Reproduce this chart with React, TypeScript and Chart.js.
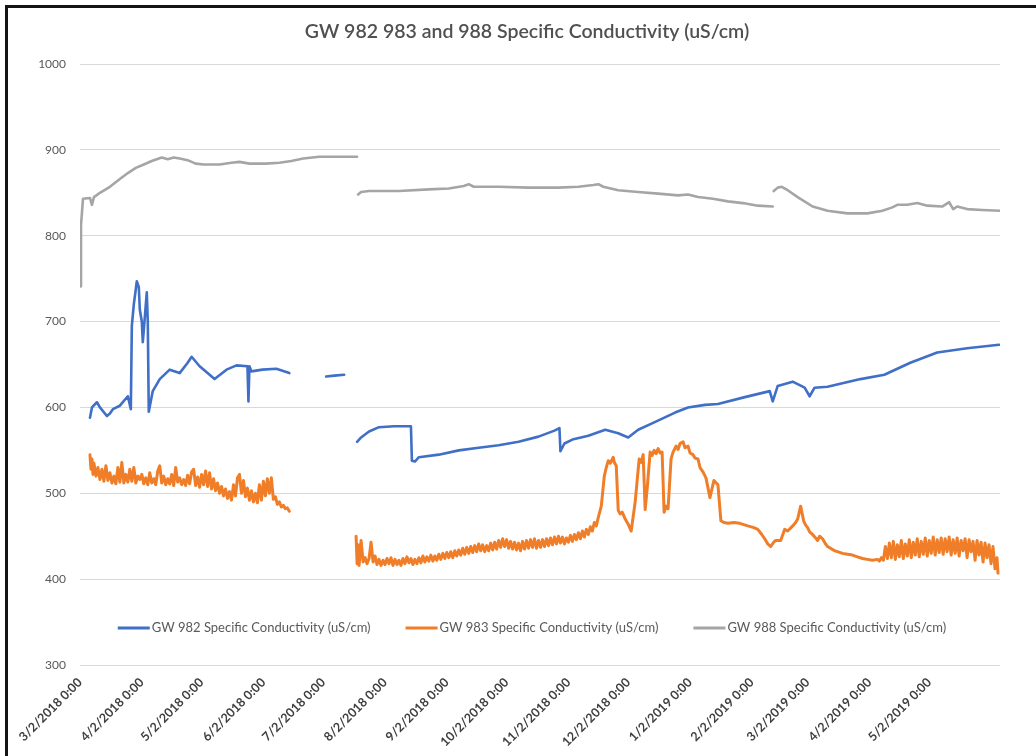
import React, { useEffect, useRef } from "react";
import { Chart, registerables } from "chart.js";

Chart.register(...registerables);

// x = days since 3/2/2018 0:00, y = specific conductivity (uS/cm); null = gap in record
const monthDays = [0, 31, 61, 92, 122, 153, 184, 214, 245, 275, 306, 337, 365, 396, 426];
const monthLabels = [
  "3/2/2018 0:00", "4/2/2018 0:00", "5/2/2018 0:00", "6/2/2018 0:00", "7/2/2018 0:00",
  "8/2/2018 0:00", "9/2/2018 0:00", "10/2/2018 0:00", "11/2/2018 0:00", "12/2/2018 0:00",
  "1/2/2019 0:00", "2/2/2019 0:00", "3/2/2019 0:00", "4/2/2019 0:00", "5/2/2019 0:00",
];
const yTicks = [300, 400, 500, 600, 700, 800, 900, 1000];

const gw982: [number, number | null][] = [
  [5, 588], [6, 600], [8.5, 606], [10, 600], [13.5, 590], [15, 593], [16.5, 598], [20, 602],
  [24, 613], [25.5, 598], [26, 695], [27, 720], [28.5, 747], [29.5, 740], [30, 714], [31, 700],
  [31.5, 676], [32, 690], [33.5, 734], [34, 700], [34.5, 595], [36.5, 619], [40, 633], [45, 644],
  [50, 640], [54, 652], [56, 659], [60, 648], [64, 640], [67.5, 633], [73.5, 644], [78.5, 649],
  [84, 648], [84.5, 607], [85, 648], [86, 642], [91.5, 644], [98.5, 645], [105, 640], [106, null],
  [123.5, 636], [127.5, 637], [132.5, 638], [134, null],
  [139, 560], [141, 565], [145, 572], [150, 577], [157.5, 578], [166, 578], [166.5, 538], [168, 537],
  [170, 542], [180, 545], [190, 550], [200, 553], [210, 556], [220, 560], [230, 566], [238, 573],
  [240.5, 576], [241, 549], [243, 558], [247.5, 563], [255, 567], [263.5, 574], [270, 570],
  [275, 565], [280, 574], [287.5, 582], [298.5, 594], [305, 600], [313.5, 603], [320, 604],
  [333.5, 612], [346, 619], [347.5, 607], [350, 625], [357.5, 630], [363.5, 623], [366, 613],
  [368.5, 623], [375, 624], [391.5, 633], [403.5, 638], [416.5, 652], [430, 664], [445, 669],
  [461, 673],
];

const gw983: [number, number | null][] = [
  [5, 545], [5.5, 528], [6, 540], [6.5, 522], [7, 535], [8, 520], [9, 530], [10, 516], [11, 528],
  [12, 514], [13, 532], [14, 515], [15, 524], [16, 512], [17, 520], [18, 511], [19, 530], [20, 513],
  [21, 536], [22, 512], [23, 522], [24, 513], [25, 528], [26, 514], [27, 530], [28, 512], [29, 520],
  [30, 516], [31, 522], [32, 511], [33, 518], [34, 510], [35, 524], [36, 512], [37, 517], [38, 510],
  [39, 526], [40, 532], [41, 512], [42, 520], [43, 510], [44, 517], [45, 511], [46, 522], [47, 509],
  [48, 530], [49, 513], [50, 518], [51, 510], [52, 516], [53, 509], [54, 521], [55, 511], [56, 525],
  [57, 528], [58, 509], [59, 519], [60, 507], [61, 522], [62, 510], [63, 526], [64, 508], [65, 524],
  [66, 505], [67, 517], [68, 503], [69, 512], [70, 500], [71, 508], [72, 497], [73, 505], [74, 494],
  [75, 502], [76, 492], [77, 510], [78, 497], [79, 518], [80, 522], [81, 500], [82, 515], [83, 496],
  [84, 506], [85, 492], [86, 503], [87, 490], [88, 500], [89, 489], [90, 510], [91, 492], [92, 514],
  [93, 497], [94, 517], [95, 500], [96, 518], [97, 493], [98, 496], [99, 487], [100, 490], [101, 484],
  [102, 486], [103, 482], [104, 483], [105, 479], [106, null],
  [138.5, 450], [139, 418], [139.5, 440], [140, 416], [141, 445], [142, 420], [143, 425], [144, 418],
  [145, 424], [146, 443], [147, 420], [148, 427], [149, 417], [150, 423], [151, 416], [152, 422],
  [153, 417], [154, 424], [155, 418], [156, 425], [157, 416], [158, 423], [159, 417], [160, 422],
  [161, 416], [162, 424], [163, 418], [164, 426], [165, 419], [166, 424], [167, 417], [168, 423],
  [169, 418], [170, 425], [171, 419], [172, 427], [173, 420], [174, 426], [175, 421], [176, 428],
  [177, 421], [178, 427], [179, 422], [180, 429], [181, 423], [182, 430], [183, 424], [184, 431],
  [185, 425], [186, 432], [187, 425], [188, 433], [189, 427], [190, 434], [191, 428], [192, 436],
  [193, 429], [194, 437], [195, 430], [196, 438], [197, 431], [198, 439], [199, 432], [200, 441],
  [201, 433], [202, 440], [203, 432], [204, 439], [205, 433], [206, 442], [207, 434], [208, 443],
  [209, 435], [210, 445], [211, 437], [212, 447], [213, 438], [214, 446], [215, 436], [216, 444],
  [217, 435], [218, 443], [219, 434], [220, 442], [221, 433], [222, 444], [223, 435], [224, 445],
  [225, 436], [226, 446], [227, 437], [228, 447], [229, 436], [230, 445], [231, 437], [232, 446],
  [233, 438], [234, 447], [235, 439], [236, 448], [237, 440], [238, 449], [239, 441], [240, 450],
  [241, 442], [242, 449], [243, 441], [244, 448], [245, 443], [246, 451], [247, 444], [248, 452],
  [249, 446], [250, 454], [251, 447], [252, 456], [253, 449], [254, 458], [255, 452], [256, 461],
  [257, 456], [258, 466], [259, 462], [260, 472], [261.5, 485], [263, 520], [264, 530], [265, 538],
  [266, 535], [267.5, 542], [268, 536], [269, 532], [270, 480], [271, 476], [272, 478], [273.5, 470],
  [275, 464], [276.5, 456], [278.5, 490], [280.5, 540], [281.5, 536], [282.5, 545], [283.5, 481],
  [284.5, 505], [286, 548], [287, 544], [288, 550], [289, 546], [290, 552], [291, 547], [292, 548],
  [293, 478], [294, 485], [295, 482], [296.5, 540], [297.5, 548], [299, 555], [300, 551],
  [301, 558], [302.5, 560], [303.5, 553], [305, 555], [306, 547], [307.5, 545], [308.5, 541],
  [310, 540], [311, 530], [312.5, 525], [314, 518], [316, 495], [318, 515], [320, 510], [321.5, 468],
  [323, 466], [325, 465], [328, 466], [331, 465], [335, 462], [338, 460], [340, 458], [342, 452],
  [343.5, 447], [345, 441], [346.5, 438], [348, 443], [349, 445], [351.5, 445], [353.5, 458],
  [355, 456], [357.5, 462], [359, 466], [360, 470], [361.5, 485], [363, 468], [364, 463], [365, 460],
  [366, 455], [367.5, 452], [369, 448], [370, 445], [371, 450], [372.5, 447], [374, 441], [375, 438],
  [376.5, 436], [378.5, 433], [380, 432], [382.5, 430], [385, 429], [387.5, 428], [390, 426],
  [392.5, 424], [395, 423], [397.5, 422], [400, 423], [401, 421], [402, 425], [403, 422], [404, 438],
  [405, 424], [406, 442], [407, 425], [408, 444], [409, 423], [410, 440], [411, 426], [412, 445],
  [413, 424], [414, 441], [415, 427], [416, 446], [417, 425], [418, 443], [419, 428], [420, 447],
  [421, 426], [422, 444], [423, 429], [424, 448], [425, 427], [426, 445], [427, 430], [428, 449],
  [429, 428], [430, 446], [431, 431], [432, 448], [433, 429], [434, 447], [435, 432], [436, 449],
  [437, 428], [438, 446], [439, 430], [440, 448], [441, 427], [442, 445], [443, 433], [444, 447],
  [445, 425], [446, 446], [447, 432], [448, 444], [449, 422], [450, 445], [451, 428], [452, 443],
  [453, 420], [454, 442], [455, 425], [456, 440], [457, 418], [458, 438], [459, 412], [460, 425],
  [460.5, 407],
];

const gw988: [number, number | null][] = [
  [0, 741], [0.5, 812], [1.5, 843], [5, 844], [6, 836], [7, 845], [10, 850], [15, 857],
  [20, 866], [24, 873], [28, 879], [32, 883], [36, 887], [41, 891], [44, 889], [47, 891],
  [50, 890], [54, 888], [58, 884], [62, 883], [70, 883], [76, 885], [80, 886], [85, 884],
  [93, 884], [100, 885], [106, 887], [112, 890], [120, 892], [130, 892], [139, 892], [139.2, null],
  [139.5, 848], [141, 851], [145, 852], [160, 852], [175, 854], [185, 855], [192.5, 858],
  [195, 860], [197.5, 857], [210, 857], [225, 856], [240, 856], [250, 857], [257.5, 859],
  [260, 860], [262.5, 857], [270, 853], [280, 851], [290, 849], [300, 847], [305, 848],
  [310, 845], [317.5, 843], [325, 840], [332.5, 838], [340, 835], [347.5, 834], [347.7, null],
  [348, 852], [350, 856], [352, 857], [355, 853], [360, 845], [367.5, 834], [375, 829],
  [385, 826], [395, 826], [402.5, 829], [407.5, 833], [410, 836], [415, 836], [420, 838],
  [425, 835], [432.5, 834], [436, 839], [438, 831], [440, 834], [445, 831], [452.5, 830],
  [461.5, 829],
];

const seriesNames = [
  "GW 982 Specific Conductivity (uS/cm)",
  "GW 983 Specific Conductivity (uS/cm)",
  "GW 988 Specific Conductivity (uS/cm)",
];
const seriesColors = ["#3F6FC6", "#F07D28", "#A5A5A5"];
const titleText = "GW 982 983 and 988 Specific Conductivity (uS/cm)";

const FONT = "Lato, 'Open Sans', sans-serif";

const toPoints = (arr: [number, number | null][]) => arr.map(([x, y]) => ({ x, y }));

const overlayPlugin = {
  id: "overlay",
  afterDraw(chart: any) {
    const ctx = chart.ctx;
    ctx.save();
    // title
    ctx.font = `600 19.5px ${FONT}`;
    ctx.fillStyle = "#505050";
    ctx.textAlign = "center";
    ctx.textBaseline = "middle";
    ctx.fillText(titleText, 527, 32);
    // legend (placed over the lower part of the plot, as in the original)
    ctx.font = `13px ${FONT}`;
    const sample = 32;
    const gap = 35;
    const widths = chart.data.datasets.map((d: any) => sample + 2 + ctx.measureText(d.label).width);
    const total = widths.reduce((a: number, b: number) => a + b, 0) + gap * (widths.length - 1);
    let x = 532 - total / 2;
    const y = 628;
    chart.data.datasets.forEach((d: any, i: number) => {
      ctx.strokeStyle = d.borderColor;
      ctx.lineWidth = 3;
      ctx.beginPath();
      ctx.moveTo(x, y);
      ctx.lineTo(x + sample, y);
      ctx.stroke();
      ctx.fillStyle = "#595959";
      ctx.textAlign = "left";
      ctx.textBaseline = "middle";
      ctx.fillText(d.label, x + sample + 2, y);
      x += widths[i] + gap;
    });
    ctx.restore();
  },
};

export default function App() {
  const ref = useRef<HTMLCanvasElement | null>(null);

  useEffect(() => {
    if (!ref.current) return;
    const chart = new Chart(ref.current, {
      type: "line",
      data: {
        datasets: [
          { label: seriesNames[0], data: toPoints(gw982), borderColor: seriesColors[0], borderWidth: 2.6 },
          { label: seriesNames[1], data: toPoints(gw983), borderColor: seriesColors[1], borderWidth: 3 },
          { label: seriesNames[2], data: toPoints(gw988), borderColor: seriesColors[2], borderWidth: 2.6 },
        ].map((d) => ({
          ...d,
          pointRadius: 0,
          tension: 0,
          spanGaps: false,
          fill: false,
          borderJoinStyle: "round" as const,
          borderCapStyle: "round" as const,
        })),
      },
      options: {
        animation: false,
        responsive: false,
        layout: { padding: { top: 64, right: 36, left: 0, bottom: 0 } },
        plugins: { legend: { display: false }, title: { display: false }, tooltip: { enabled: false } },
        scales: {
          x: {
            type: "linear",
            min: 0,
            max: 461.5,
            grid: { display: false, drawTicks: false },
            border: { display: false },
            afterBuildTicks: (scale: any) => {
              scale.ticks = monthDays.map((v) => ({ value: v }));
            },
            afterFit: (scale: any) => {
              scale.height = 91;
            },
            ticks: {
              autoSkip: false,
              minRotation: 45,
              maxRotation: 45,
              padding: 10,
              color: "#404040",
              font: { family: FONT, size: 12.5, weight: "bold" },
              callback: (_v: any, i: number) => monthLabels[i],
            },
          },
          y: {
            min: 300,
            max: 1000,
            afterBuildTicks: (scale: any) => {
              scale.ticks = yTicks.map((v) => ({ value: v }));
            },
            afterFit: (scale: any) => {
              scale.width = 80;
            },
            grid: { color: "#D9D9D9", lineWidth: 1, drawTicks: false },
            border: { display: false },
            ticks: {
              padding: 14,
              color: "#595959",
              font: { family: FONT, size: 12 },
              callback: (v: any) => String(v),
            },
          },
        },
      },
      plugins: [overlayPlugin],
    });
    return () => chart.destroy();
  }, []);

  return (
    <div style={{ position: "fixed", left: 0, top: 0, width: 1036, height: 756, background: "#fff" }}>
      <canvas ref={ref} width={1036} height={756} style={{ position: "absolute", left: 0, top: 0 }} />
      <div
        style={{
          position: "absolute",
          left: 5,
          top: 5,
          width: 1031,
          height: 751,
          borderTop: "3px solid #141414",
          borderLeft: "3px solid #141414",
          boxSizing: "border-box",
          pointerEvents: "none",
        }}
      />
    </div>
  );
}
